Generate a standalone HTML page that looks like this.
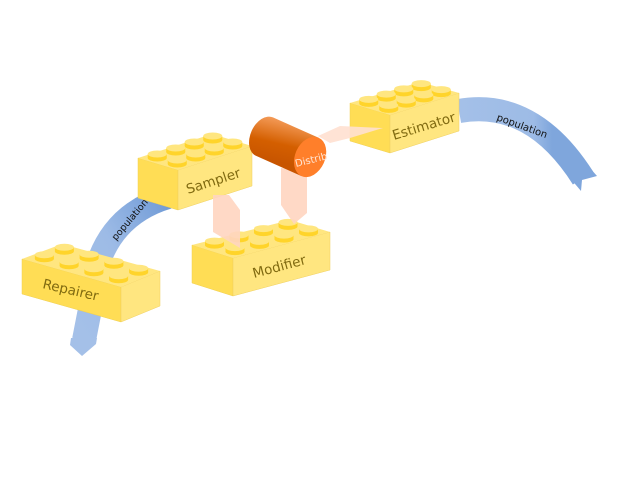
<!DOCTYPE html>
<html><head><meta charset="utf-8"><style>
html,body{margin:0;padding:0;background:#fff;width:640px;height:480px;overflow:hidden}
text{font-family:"DejaVu Sans","Liberation Sans",sans-serif}
</style></head><body>
<svg id="s" width="640" height="480" viewBox="0 0 640 480" xmlns="http://www.w3.org/2000/svg">
<defs>
<linearGradient id="cyl" x1="0" y1="0" x2="0.3" y2="1">
<stop offset="0" stop-color="#f7a060"/><stop offset="0.6" stop-color="#d45f00"/><stop offset="1" stop-color="#c85500"/></linearGradient>
<linearGradient id="rib" x1="0" y1="0" x2="1" y2="0">
<stop offset="0" stop-color="#a4c0e8"/><stop offset="0.6" stop-color="#9dbbe6"/><stop offset="0.75" stop-color="#7fa6dc"/><stop offset="1" stop-color="#7fa6dc"/></linearGradient>
<linearGradient id="rib2" x1="0" y1="1" x2="1" y2="0">
<stop offset="0" stop-color="#a4c0e8"/><stop offset="0.5" stop-color="#9dbbe6"/><stop offset="1" stop-color="#6f9ad6"/></linearGradient>
</defs>
<path d="M168,197 Q118,212 100,258 L84,340" fill="none" stroke="url(#rib2)" stroke-width="24"/>
<polygon points="71,338 97,338 96,344 82,356 70,345" fill="#a4c0e8"/>
<text x="0" y="0" font-size="9.5" fill="#111" transform="translate(116,241) rotate(-50)">population</text>
<path d="M459,111 Q532,98 583,178" fill="none" stroke="url(#rib)" stroke-width="24"/>
<polygon points="570,178 581,191 582,180 597,176 590,168" fill="#7fa6dc"/>
<text x="0" y="0" font-size="10" fill="#111" transform="translate(496,120) rotate(20)">population</text>
<g id="bricks"></g>
<polygon points="213,195 229,195 240,210 240,248 213,232" fill="#ffd5c0" opacity="0.9"/>
<polygon points="281,168 307,170 307,213 294,224 281,205" fill="#ffd5c0" opacity="0.9"/>
<polygon points="318,136 340,126 383,128 350,138 330,143" fill="#ffe0d0" opacity="0.9"/>
<g transform="translate(290,148) rotate(24)">
<path d="M-28,-21 L22,-21 L22,21 L-28,21 A14,21 0 0 1 -28,-21 Z" fill="url(#cyl)"/>
<ellipse cx="22" cy="0" rx="15" ry="21" fill="#ff7f2a"/>
</g>
<text x="0" y="0" font-size="10" fill="#ffe6d5" transform="translate(296,167) rotate(-14)">Distrib</text>
</svg>
<script>
var NS="http://www.w3.org/2000/svg",g=document.getElementById('bricks');
function el(t,a){var e=document.createElementNS(NS,t);for(var k in a)e.setAttribute(k,a[k]);g.appendChild(e);return e;}
function brick(A,B,C,D,h,nu,nv,label,lx,ly,rot){
 function p(a){return a.map(function(q){return q[0]+','+q[1]}).join(' ');}
 el('polygon',{points:p([A,B,[B[0],B[1]+h],[A[0],A[1]+h]]),fill:'#ffdd55',stroke:'#f0cf50','stroke-width':0.5});
 el('polygon',{points:p([B,C,[C[0],C[1]+h],[B[0],B[1]+h]]),fill:'#ffe680',stroke:'#f0d060','stroke-width':0.5});
 el('polygon',{points:p([A,B,C,D]),fill:'#ffe680'});
 for(var j=nv-1;j>=0;j--)for(var i=0;i<nu;i++){
  var u=(i+0.5)/nu,v=(j+0.5)/nv;
  var x=A[0]+(B[0]-A[0])*u+(D[0]-A[0])*v, y=A[1]+(B[1]-A[1])*u+(D[1]-A[1])*v;
  el('rect',{x:x-9.5,y:y-4,width:19,height:4,fill:'#ffd42a'});
  el('ellipse',{cx:x,cy:y,rx:9.5,ry:3.5,fill:'#ffd42a'});
  el('ellipse',{cx:x,cy:y-4,rx:9.5,ry:3.5,fill:'#ffe680'});
 }
 var t=el('text',{x:0,y:0,'font-size':13.5,fill:'#806a10',transform:'translate('+lx+','+ly+') rotate('+rot+')'});t.textContent=label;
}
brick([22,259],[121,287],[160,271],[62,244],35,4,2,'Repairer',42,288,13);
brick([138,158],[178,170],[252,146],[212,134],40,2,4,'Sampler',188,194,-18);
brick([192,245],[233,258],[330,232],[290,220],38,2,4,'Modifier',254,278,-15);
brick([350,103],[390,115],[459,93],[420,82],38,2,4,'Estimator',394,140,-17);
</script>
</body></html>
